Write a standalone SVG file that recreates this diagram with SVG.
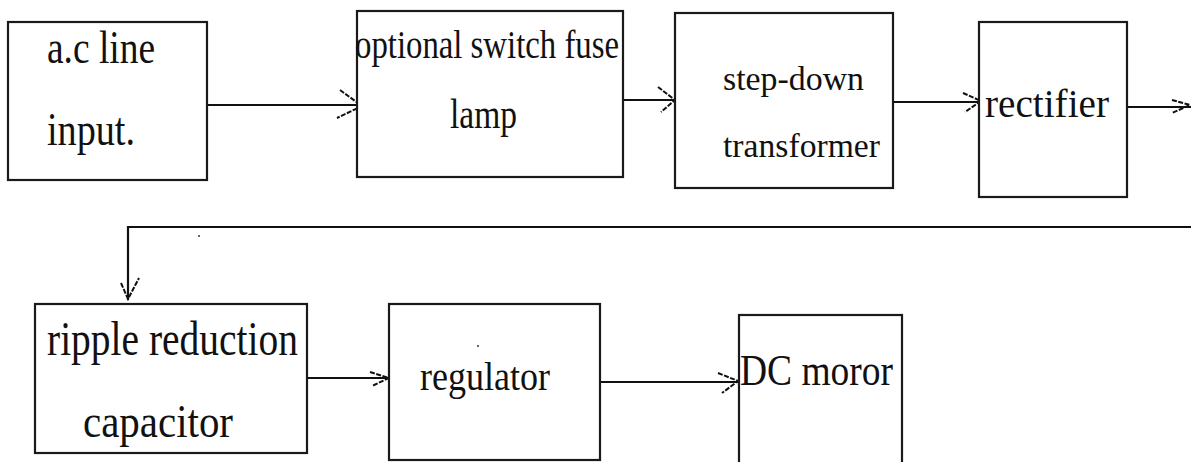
<svg xmlns="http://www.w3.org/2000/svg" width="1191" height="462" viewBox="0 0 1191 462">
<style>
.box{fill:#fff;stroke:#1a1a1a;stroke-width:2.2}
.t{font-family:"Liberation Serif","Times New Roman",serif;fill:#111}
.ln{fill:none;stroke:#111;stroke-width:2.2}
.bb{fill:none;stroke:#111;stroke-width:2;stroke-dasharray:5 1.5}
</style>
<rect width="1191" height="462" fill="#fff"/>
<g id="connectors">
  <line class="ln" x1="207" y1="105" x2="362" y2="105"/>
  <path class="bb" d="M340 90 L362 106 L337 118"/>
  <line class="ln" x1="623" y1="100" x2="676" y2="100"/>
  <path class="bb" d="M658 87 L675 100 L661 112"/>
  <line class="ln" x1="893" y1="102" x2="981" y2="102"/>
  <path class="bb" d="M963 93 L981 101 L965 112"/>
  <line class="ln" x1="1127" y1="107" x2="1191" y2="107"/>
  <path class="bb" d="M1172 100 L1190 105 L1172 113"/>
  <polyline class="ln" points="1191,227 128,227 128,300"/>
  <path class="bb" d="M121 283 L128 299 L139 278"/>
  <line class="ln" x1="307" y1="378" x2="390" y2="378"/>
  <path class="bb" d="M370 372 L389 378 L372 386"/>
  <line class="ln" x1="600" y1="382" x2="739" y2="382"/>
  <path class="bb" d="M718 373 L738 381 L722 393"/>
</g>
<g id="node-ac">
  <rect class="box" x="8" y="22" width="199" height="158"/>
  <text class="t" x="47" y="63" font-size="46" textLength="108" lengthAdjust="spacingAndGlyphs">a.c line</text>
  <text class="t" x="47" y="145" font-size="46" textLength="88" lengthAdjust="spacingAndGlyphs">input.</text>
</g>
<g id="node-switch">
  <rect class="box" x="357" y="11" width="266" height="166"/>
  <text class="t" x="355" y="58" font-size="41" textLength="264" lengthAdjust="spacingAndGlyphs">optional switch fuse</text>
  <text class="t" x="450" y="128" font-size="42" textLength="67" lengthAdjust="spacingAndGlyphs">lamp</text>
</g>
<g id="node-transformer">
  <rect class="box" x="675" y="13" width="218" height="175"/>
  <text class="t" x="723" y="90" font-size="33" textLength="141" lengthAdjust="spacingAndGlyphs">step-down</text>
  <text class="t" x="723" y="157" font-size="33" textLength="157" lengthAdjust="spacingAndGlyphs">transformer</text>
</g>
<g id="node-rectifier">
  <rect class="box" x="979" y="22" width="148" height="175"/>
  <text class="t" x="985" y="117" font-size="40" textLength="124" lengthAdjust="spacingAndGlyphs">rectifier</text>
</g>
<g id="node-ripple">
  <rect class="box" x="35" y="304" width="272" height="149"/>
  <text class="t" x="47" y="355" font-size="48" textLength="251" lengthAdjust="spacingAndGlyphs">ripple reduction</text>
  <text class="t" x="83" y="437" font-size="47" textLength="150" lengthAdjust="spacingAndGlyphs">capacitor</text>
</g>
<g id="node-regulator">
  <rect class="box" x="389" y="304" width="211" height="156"/>
  <text class="t" x="420" y="390" font-size="41" textLength="130" lengthAdjust="spacingAndGlyphs">regulator</text>
</g>
<g id="node-dc">
  <rect class="box" x="739" y="315" width="163" height="160"/>
  <text class="t" x="740" y="385" font-size="45" textLength="153" lengthAdjust="spacingAndGlyphs">DC moror</text>
</g>
<circle cx="199" cy="236" r="1" fill="#333"/>
<circle cx="478" cy="346" r="1" fill="#333"/>
</svg>
